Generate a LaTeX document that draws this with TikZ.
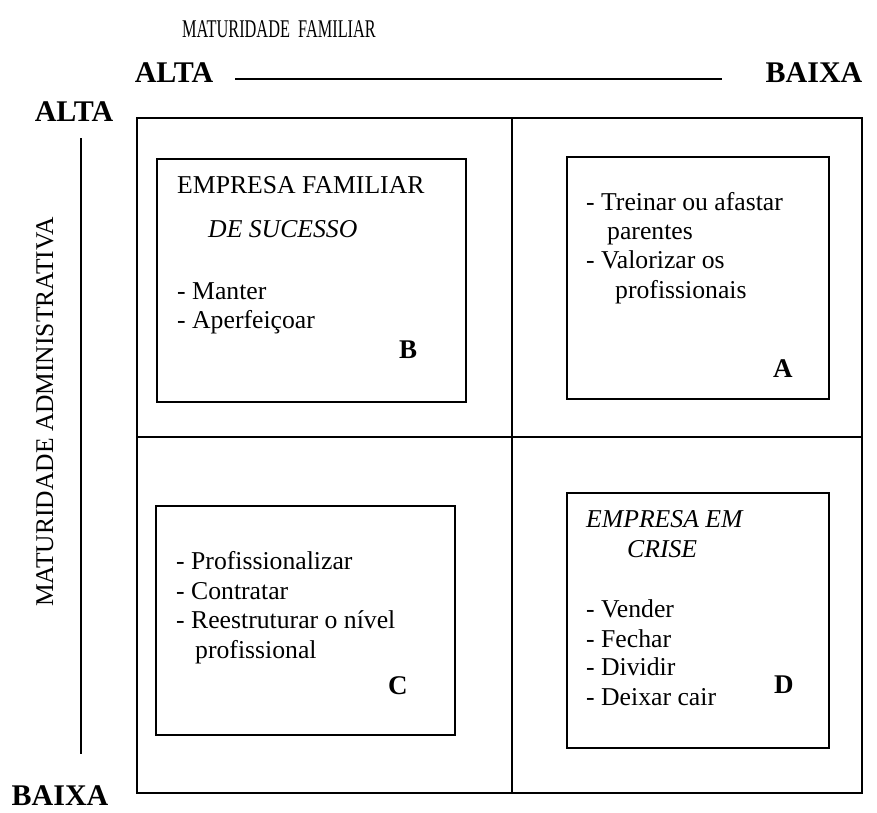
\documentclass[tikz,border=0pt]{standalone}
\usepackage{fontspec}
\setmainfont{Liberation Serif}
\begin{document}
\begin{tikzpicture}[x=1pt,y=-1pt,
  frame/.style={draw=black,line width=1.6pt},
  card/.style={draw=black,line width=1.6pt,inner sep=0pt},
  txt/.style={anchor=base west,inner sep=0pt,font=\fontsize{25.7}{29.3}\selectfont},
  itx/.style={txt,font=\fontsize{25.7}{29.3}\selectfont\itshape},
  tag/.style={anchor=base west,inner sep=0pt,font=\fontsize{27}{30}\selectfont\bfseries},
  lvl/.style={anchor=base,inner sep=0pt,font=\fontsize{30}{32}\selectfont\bfseries},
  axis/.style={anchor=base,inner sep=0pt,font=\fontsize{25.5}{29.3}\selectfont}]
\useasboundingbox (0,0) rectangle (877,812);

% axis headings
\node[axis,xscale=0.64] (fam) at (279,37) {MATURIDADE\ \ FAMILIAR};
\node[axis,rotate=90] (adm) at (53,412) {MATURIDADE ADMINISTRATIVA};

% level labels
\node[lvl] (altaT) at (174,82) {ALTA};
\node[lvl] (baixaT) at (814,82) {BAIXA};
\node[lvl] (altaL) at (74,121) {ALTA};
\node[lvl] (baixaL) at (60,805) {BAIXA};

% scale rules
\coordinate (hs) at (235,79);
\coordinate (he) at (722,79);
\draw[line width=1.6pt] (hs) -- (he);
\coordinate (vs) at (81,138);
\coordinate (ve) at (81,754);
\draw[line width=1.6pt] (vs) -- (ve);

% quadrant grid
\coordinate (g1) at (137,118);
\coordinate (g2) at (862,793);
\draw[frame] (g1) rectangle (g2);
\coordinate (mt) at (512,118);
\coordinate (mb) at (512,793);
\coordinate (ml) at (137,437);
\coordinate (mr) at (862,437);
\draw[frame] (mt) -- (mb);
\draw[frame] (ml) -- (mr);

% quadrant B
\draw[card] (157,159) rectangle (466,402);
\node[txt] (b1) at (177,193) {EMPRESA FAMILIAR};
\node[itx] (b2) at (208,237) {DE SUCESSO};
\node[txt] (b3) at (177,299) {- Manter};
\node[txt] (b4) at (177,328) {- Aperfeiçoar};
\node[tag] (bB) at (399,358) {B};

% quadrant A
\draw[card] (567,157) rectangle (829,399);
\node[txt] (a1) at (586,210) {- Treinar ou afastar};
\node[txt] (a2) at (607,239) {parentes};
\node[txt] (a3) at (586,268) {- Valorizar os};
\node[txt] (a4) at (615,298) {profissionais};
\node[tag] (aA) at (773,377) {A};

% quadrant C
\draw[card] (156,506) rectangle (455,735);
\node[txt] (c1) at (176,569) {- Profissionalizar};
\node[txt] (c2) at (176,599) {- Contratar};
\node[txt] (c3) at (176,628) {- Reestruturar o nível};
\node[txt] (c4) at (195,658) {profissional};
\node[tag] (cC) at (388,694) {C};

% quadrant D
\draw[card] (567,493) rectangle (829,748);
\node[itx] (d1) at (586,527) {EMPRESA EM};
\node[itx] (d2) at (627,557) {CRISE};
\node[txt] (d3) at (586,617) {- Vender};
\node[txt] (d4) at (586,647) {- Fechar};
\node[txt] (d5) at (586,675) {- Dividir};
\node[txt] (d6) at (586,705) {- Deixar cair};
\node[tag] (dD) at (774,693) {D};
\end{tikzpicture}
\end{document}
